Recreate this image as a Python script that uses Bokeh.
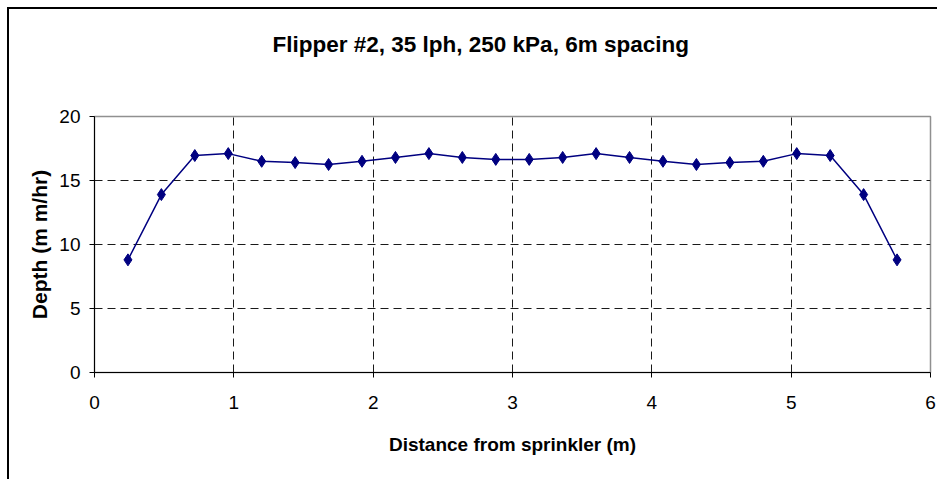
from bokeh.plotting import figure
from bokeh.models import FixedTicker, InlineStyleSheet, Range1d
from bokeh.embed import file_html
from bokeh.resources import INLINE

# ---- data ----
distance = [0.24, 0.48, 0.72, 0.96, 1.20, 1.44, 1.68, 1.92, 2.16, 2.40, 2.64, 2.88,
            3.12, 3.36, 3.60, 3.84, 4.08, 4.32, 4.56, 4.80, 5.04, 5.28, 5.52, 5.76]
depth = [8.8, 13.9, 16.95, 17.1, 16.5, 16.4, 16.25, 16.5, 16.8, 17.1, 16.8, 16.65,
         16.65, 16.8, 17.1, 16.8, 16.5, 16.25, 16.4, 16.5, 17.1, 16.95, 13.9, 8.8]
x_ticks = [0, 1, 2, 3, 4, 5, 6]
y_ticks = [0, 5, 10, 15, 20]
x_grid = [1, 2, 3, 4, 5]
y_grid = [5, 10, 15]
title_text = "Flipper #2, 35 lph, 250 kPa, 6m spacing"
x_label = "Distance from sprinkler (m)"
y_label = "Depth (m m/hr)"

FONT = "Liberation Sans"
NAVY = "#000080"

p = figure(width=930, height=472, output_backend="svg", toolbar_location=None,
           x_range=Range1d(0, 6), y_range=Range1d(0, 20),
           min_border_left=85, min_border_right=9, min_border_top=106, min_border_bottom=109,
           background_fill_color="white", border_fill_color="white")

p.stylesheets = [InlineStyleSheet(css=":host { margin-left: 7px; margin-top: 7px; "
                                      "border-left: 2px solid #000; border-top: 2px solid #000; }")]

p.outline_line_color = "#909090"
p.outline_line_width = 1.5

# title (a blank second line lifts it away from the plot area)
p.title.text = title_text + "\n "
p.title.align = "left"
p.title.offset = 178
p.title.standoff = 40
p.title.vertical_align = "bottom"
p.title.text_line_height = 1.6
p.title.text_font = FONT
p.title.text_font_size = "22.5px"
p.title.text_font_style = "bold"
p.title.text_color = "black"

# grid
p.xgrid.ticker = FixedTicker(ticks=x_grid)
p.ygrid.ticker = FixedTicker(ticks=y_grid)
p.grid.grid_line_color = "#1a1a1a"
p.grid.grid_line_dash = "8 5"
p.grid.grid_line_width = 1

# axes
p.xaxis.ticker = FixedTicker(ticks=x_ticks)
p.yaxis.ticker = FixedTicker(ticks=y_ticks)
p.axis.axis_line_color = "black"
p.axis.major_tick_line_color = "black"
p.axis.major_tick_out = 5
p.axis.major_tick_in = 0
p.axis.minor_tick_line_color = None
p.axis.major_label_text_color = "black"
p.axis.major_label_text_font = FONT
p.axis.major_label_text_font_size = "19px"
p.xaxis.major_label_standoff = 18
p.yaxis.major_label_standoff = 9

p.xaxis.axis_label = x_label
p.xaxis.axis_label_text_font = FONT
p.xaxis.axis_label_text_font_size = "19px"
p.xaxis.axis_label_text_font_style = "bold"
p.xaxis.axis_label_text_color = "black"
p.xaxis.axis_label_standoff = 22

p.yaxis.axis_label = y_label
p.yaxis.axis_label_text_font = FONT
p.yaxis.axis_label_text_font_size = "21px"
p.yaxis.axis_label_text_font_style = "bold"
p.yaxis.axis_label_text_color = "black"
p.yaxis.axis_label_standoff = 5

# series
p.line(distance, depth, line_color=NAVY, line_width=1.5)
p.scatter(distance, depth, marker="diamond", size=12, fill_color=NAVY, line_color=NAVY)

open("out.html", "w").write(file_html(p, INLINE))
